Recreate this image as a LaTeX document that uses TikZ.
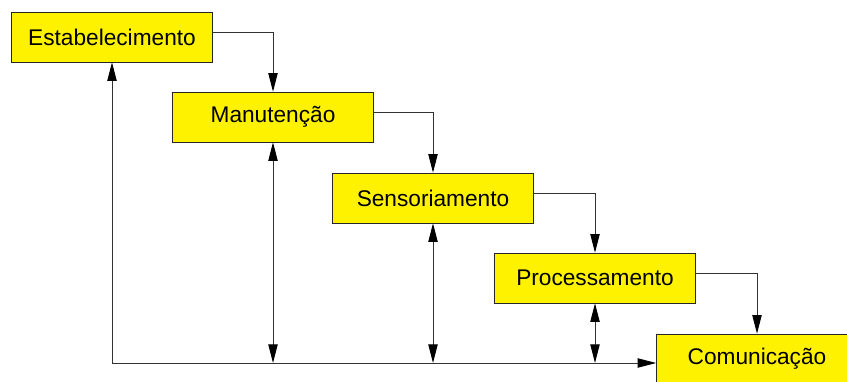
\documentclass[tikz,border=0pt]{standalone}
\usepackage{fontspec}
\setmainfont{Liberation Sans}
\usetikzlibrary{arrows.meta}

\tikzset{
    fase/.style={draw=black!85, fill=yellow, minimum width=150.75pt, minimum height=37.5pt, inner sep=0pt, font=\fontsize{17}{20}\selectfont},
    liga/.style={line width=0.75pt, draw=black!80},
    ponta/.style={-{Triangle[length=14pt,width=7pt,black]}},
    pontas/.style={{Triangle[length=14pt,width=7pt,black]}-{Triangle[length=14pt,width=7pt,black]}},
}

\begin{document}
\begin{tikzpicture}[x=0.75pt, y=-0.75pt]
        \clip (0,0) rectangle (847,382);
        \useasboundingbox (0,0) rectangle (847,382);

        \node[fase] (est) at (112, 37) {Estabelecimento};
        \node[fase] (man) at (273, 117) {Manutenção};
        \node[fase] (sen) at (433, 198) {Sensoriamento};
        \node[fase] (pro) at (595, 278) {Processamento};
        \node[fase] (com) at (757, 359) {Comunicação};

        \coordinate (base) at (112, 363);

        \draw[liga, ponta] ([yshift=3.75pt]est.east) -| (man.north);
        \draw[liga, ponta] ([yshift=3.75pt]man.east) -| (sen.north);
        \draw[liga, ponta] ([yshift=3.75pt]sen.east) -| (pro.north);
        \draw[liga, ponta] ([yshift=3.75pt]pro.east) -| (com.north);

        \draw[liga, ponta] (base) -- (est.south);
        \draw[liga, ponta] (base) -- (base -| com.west);
        \draw[liga, pontas] (man.south) -- (man.south |- base);
        \draw[liga, pontas] (sen.south) -- (sen.south |- base);
        \draw[liga, pontas] (pro.south) -- (pro.south |- base);
    \end{tikzpicture}
\end{document}
